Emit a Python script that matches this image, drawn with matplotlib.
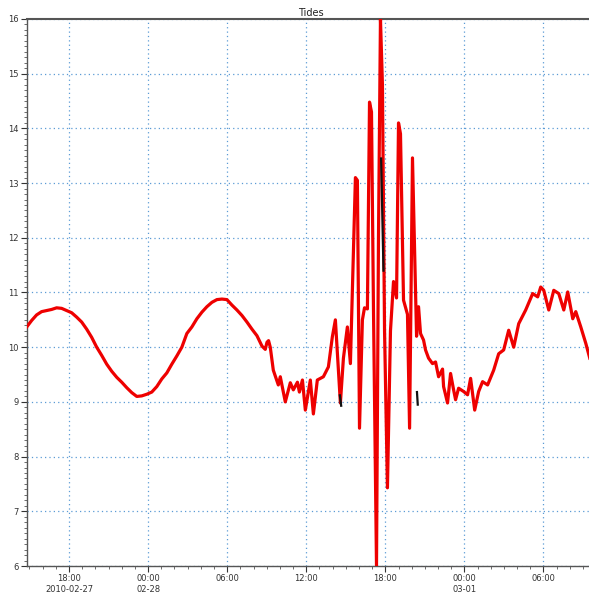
import numpy as np
import pandas as pd
import matplotlib
matplotlib.use("Agg")
import matplotlib.pyplot as plt
import matplotlib.dates as mdates
from matplotlib.ticker import MultipleLocator

# ---- data: hours offset from 2010-02-27 18:00 and tide level ----
base_time = pd.Timestamp("2010-02-27 18:00")
hours = [-3.21, -2.83, -2.46, -2.08, -1.70, -1.32, -0.94, -0.56, -0.18, 0.20, 0.58,
         0.96, 1.34, 1.72, 2.10, 2.48, 2.86, 3.24, 3.62, 4.00, 4.38, 4.76, 5.14,
         5.52, 5.90, 6.28, 6.66, 7.04, 7.42, 7.80, 8.18, 8.56, 8.94, 9.32, 9.70,
         10.08, 10.46, 10.84, 11.22, 11.60, 11.98, 12.36, 12.74, 13.12, 13.50,
         13.88, 14.26, 14.64, 14.89, 15.02, 15.14, 15.27, 15.50, 15.88,
         16.03, 16.41, 16.79, 17.02, 17.33, 17.48, 17.71, 17.93, 18.31, 18.54, 18.84,
         19.30, 19.68, 19.98, 20.21, 20.59, 20.82, 21.12, 21.35, 21.73, 21.88, 22.04,
         22.26, 22.42, 22.64, 22.80, 22.95, 23.10, 23.33, 23.48, 23.63, 23.78, 23.94,
         24.16, 24.39, 24.62, 24.85, 25.00, 25.15, 25.38, 25.68, 25.84, 26.06, 26.22,
         26.37, 26.52, 26.67, 26.90, 27.05, 27.28, 27.58, 27.81, 28.04, 28.34, 28.42,
         28.72, 28.95, 29.18, 29.33, 29.56, 29.94, 30.24, 30.47, 30.78, 31.08, 31.38,
         31.76, 32.22, 32.60, 32.98, 33.36,
         33.74, 34.12, 34.65, 35.18, 35.56, 35.79, 36.02, 36.40, 36.78, 37.16, 37.54,
         37.84, 38.22, 38.45, 38.83, 39.21, 39.51]
levels = [10.37, 10.49, 10.59, 10.65, 10.67, 10.69, 10.72, 10.71, 10.67, 10.63, 10.55,
          10.46, 10.33, 10.18, 10.00, 9.85, 9.69, 9.56, 9.45, 9.36, 9.26, 9.17, 9.10,
          9.11, 9.14, 9.18, 9.28, 9.42, 9.53, 9.69, 9.84, 10.00, 10.25, 10.37, 10.52,
          10.64, 10.74, 10.82, 10.87, 10.88, 10.87, 10.77, 10.68, 10.58, 10.46,
          10.33, 10.21, 10.02, 9.96, 10.09, 10.12, 10.00, 9.58, 9.31,
          9.46, 9.00, 9.35, 9.22, 9.36, 9.18, 9.40, 8.85, 9.40, 8.78, 9.40,
          9.46, 9.64, 10.19, 10.50, 8.98, 9.80, 10.37, 9.70, 13.10, 13.05, 8.52,
          10.50, 10.72, 10.70, 14.48, 14.30, 10.70, 6.00, 12.00, 16.00, 14.80, 10.30,
          7.43, 10.30, 11.20, 10.90, 14.10, 13.90, 10.86, 10.60, 8.52, 13.46, 11.80,
          10.20, 10.74, 10.25, 10.13, 9.95, 9.80, 9.70, 9.73, 9.46, 9.60, 9.28,
          8.98, 9.52, 9.22, 9.04, 9.25, 9.19, 9.13, 9.43, 8.85, 9.19, 9.37,
          9.31, 9.58, 9.88, 9.95, 10.31,
          10.00, 10.43, 10.68, 10.98, 10.92, 11.10, 11.04, 10.68, 11.04, 10.98, 10.68,
          11.01, 10.52, 10.65, 10.37, 10.07, 9.80]

# secondary (black) series, visible in short pieces
obs_hours = [20.55, 20.65, np.nan, 23.68, 23.86, np.nan, 26.40, 26.46]
obs_levels = [9.12, 8.93, np.nan, 13.45, 11.40, np.nan, 9.18, 8.95]

xtick_hours = [0, 6, 12, 18, 24, 30, 36]
xtick_labels = ["18:00\n2010-02-27", "00:00\n02-28", "06:00", "12:00",
                "18:00", "00:00\n03-01", "06:00"]
title = "Tides"

def to_time(h):
    return [base_time + pd.Timedelta(hours=v) if not np.isnan(v) else pd.NaT for v in h]

t = to_time(hours)
t_obs = to_time(obs_hours)

fig = plt.figure(figsize=(5.89, 5.93), dpi=100)
ax = fig.add_axes([0.0458, 0.0455, 0.9642, 0.9225])

ax.plot(t, levels, color="#ee0000", lw=2.3, solid_joinstyle="round", zorder=3)
ax.plot(pd.to_datetime(t_obs), obs_levels, color="#111111", lw=1.6, zorder=4)

ax.set_ylim(6, 16)
ax.set_xlim(base_time + pd.Timedelta(hours=-3.19), base_time + pd.Timedelta(hours=39.9))

ax.yaxis.set_major_locator(MultipleLocator(1))
ax.yaxis.set_minor_locator(MultipleLocator(0.1))
ax.set_xticks(to_time(xtick_hours))
ax.set_xticklabels(xtick_labels)
ax.xaxis.set_minor_locator(mdates.HourLocator())

ax.grid(True, which="major", color="#5b9bd5", linestyle=(0, (1, 2.5)), lw=0.9)
ax.tick_params(axis="both", which="major", labelsize=6, colors="#333333",
               length=4, width=0.8, direction="out", pad=2)
ax.tick_params(axis="both", which="minor", length=2, width=0.6, colors="#555555",
               direction="out")

for s in ["left", "bottom", "top"]:
    ax.spines[s].set_color("#555555")
    ax.spines[s].set_linewidth(1.0)
ax.spines["top"].set_linewidth(1.5)
ax.spines["right"].set_visible(False)

ax.set_title(title, fontsize=7, color="#222222", pad=2)

fig.savefig("out.png", dpi=100)
